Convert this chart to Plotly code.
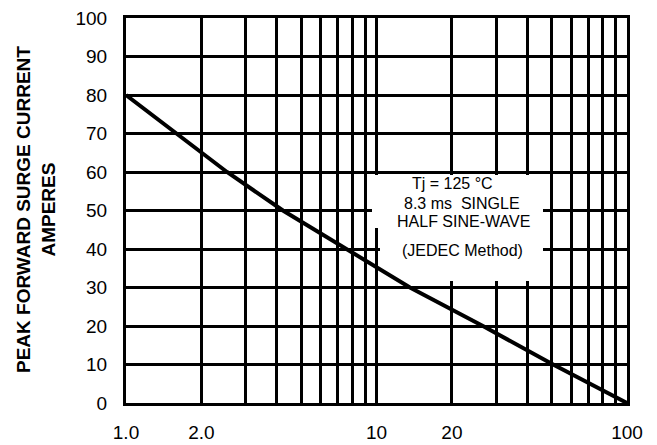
import numpy as np
import plotly.graph_objects as go

# Data (number of cycles at which the curve crosses each current gridline)
cycles = [1.0, 1.6, 2.53, 4.23, 7.62, 13.6, 26.6, 50.7, 100.0]
current = [80, 70, 60, 50, 40, 30, 20, 10, 0]

x_grid = [1, 2, 3, 4, 5, 6, 7, 8, 9, 10, 20, 30, 40, 50, 60, 70, 80, 90, 100]
x_labels = {1: "1.0", 2: "2.0", 10: "10", 20: "20", 100: "100"}
y_ticks = [0, 10, 20, 30, 40, 50, 60, 70, 80, 90, 100]

y_title_lines = ["PEAK FORWARD SURGE CURRENT", "AMPERES"]
note_lines = ["Tj = 125 °C", "8.3 ms\u00a0\u00a0SINGLE", "HALF SINE-WAVE", "(JEDEC Method)"]

W, H = 657, 445
L, R, T, B = 126, 30, 18, 42
PW, PH = W - L - R, H - T - B

def dx(px):
    return (px - L) / PW

def dy(py):
    return (H - B - py) / PH

FONT = "Liberation Sans, Arial, sans-serif"

fig = go.Figure()
fig.add_trace(go.Scatter(x=cycles, y=current, mode="lines",
                         line=dict(color="black", width=4), showlegend=False,
                         hoverinfo="skip"))

fig.update_layout(
    width=W, height=H,
    margin=dict(l=L, r=R, t=T, b=B, pad=0, autoexpand=False),
    paper_bgcolor="white", plot_bgcolor="white",
    font=dict(family=FONT, color="black", size=19),
    showlegend=False,
)
fig.update_xaxes(
    type="log", range=[0, 2], automargin=False,
    tickmode="array", tickvals=x_grid,
    ticktext=[x_labels.get(v, "") for v in x_grid],
    showgrid=True, gridcolor="black", gridwidth=2.5,
    showline=True, mirror=True, linecolor="black", linewidth=3,
    ticks="", ticklabelstandoff=10, zeroline=False,
    tickfont=dict(size=19, family=FONT),
)
fig.update_yaxes(
    range=[0, 100], automargin=False, tickmode="array", tickvals=y_ticks,
    showgrid=True, gridcolor="black", gridwidth=3,
    showline=True, mirror=True, linecolor="black", linewidth=3,
    ticks="", ticklabelstandoff=12, zeroline=False,
    tickfont=dict(size=19, family=FONT),
)

# white panel behind the note (hides gridlines, leaves a notch for the curve)
panel = [(372, 175), (543, 175), (543, 281), (406, 281), (380, 266), (380, 228), (372, 228)]
path = "M " + " L ".join(f"{dx(px):.5f},{dy(py):.5f}" for px, py in panel) + " Z"
fig.add_shape(type="path", xref="x domain", yref="y domain", path=path,
              fillcolor="white", line=dict(width=0), layer="above")

note_pos = [(452, 183), (462, 203), (463, 222), (462, 250)]
for txt, (px, py) in zip(note_lines, note_pos):
    fig.add_annotation(text=txt, xref="x domain", yref="y domain",
                       x=dx(px), y=dy(py), xanchor="center", yanchor="middle",
                       showarrow=False, font=dict(size=16, family=FONT))

fig.add_annotation(text="<b>" + "<br>".join(y_title_lines) + "</b>",
                   xref="paper", yref="paper", x=dx(36), y=dy(210),
                   xanchor="center", yanchor="middle", textangle=-90,
                   showarrow=False, font=dict(size=19, family=FONT))

fig.write_html("out.html", config={"displayModeBar": False},
               post_script="document.body.style.margin='0';document.body.style.overflow='hidden';")
